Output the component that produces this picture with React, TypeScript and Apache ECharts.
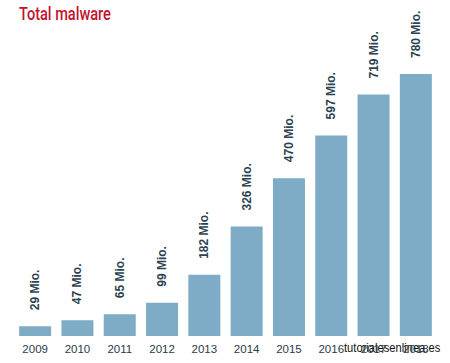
import React, { useEffect, useRef } from "react";
import * as echarts from "echarts";

const categories = ["2009", "2010", "2011", "2012", "2013", "2014", "2015", "2016", "2017", "2018"];
const values = [29, 47, 65, 99, 182, 326, 470, 597, 719, 780];
const titleText = "Total malware";
const watermark = "tutorialesenlinea.es";

export default function App() {
  const ref = useRef<HTMLDivElement>(null);
  useEffect(() => {
    const chart = echarts.init(ref.current!, null, { renderer: "svg" });
    chart.setOption({
      animation: false,
      backgroundColor: "#ffffff",
      grid: { left: 14, right: 13, top: 74, bottom: 27 },
      xAxis: {
        type: "category",
        data: categories,
        axisLine: { show: false },
        axisTick: { show: false },
        axisLabel: { color: "#2a3b47", fontSize: 11.5, fontFamily: "Liberation Sans", margin: 7 },
      },
      yAxis: {
        type: "value",
        min: 0,
        max: 780,
        show: false,
        splitLine: { show: false },
      },
      series: [
        {
          type: "bar",
          data: values,
          barWidth: 32,
          itemStyle: { color: "#7eabc5" },
          label: {
            show: true,
            position: "top",
            rotate: 90,
            align: "left",
            verticalAlign: "middle",
            distance: 16,
            formatter: (p: any) => `${p.value} Mio.`,
            color: "#2b4250",
            fontSize: 12,
            fontWeight: "bold",
            fontFamily: "Liberation Sans",
          },
        },
      ],
      graphic: [
        {
          type: "text",
          x: 19,
          y: 5,
          scaleX: 0.81,
          style: {
            text: titleText,
            fill: "#c4122f",
            fontSize: 18,
            fontWeight: 500,
            fontFamily: "Roboto",
            textVerticalAlign: "top",
          },
        },
        {
          type: "text",
          x: 344,
          y: 341,
          scaleX: 0.86,
          style: {
            text: watermark,
            fill: "#111111",
            fontSize: 13,
            fontFamily: "Liberation Sans",
            textVerticalAlign: "top",
          },
        },
      ],
    });
    return () => chart.dispose();
  }, []);
  return <div ref={ref} style={{ width: 450, height: 363, position: "absolute", left: 0, top: 0 }} />;
}
